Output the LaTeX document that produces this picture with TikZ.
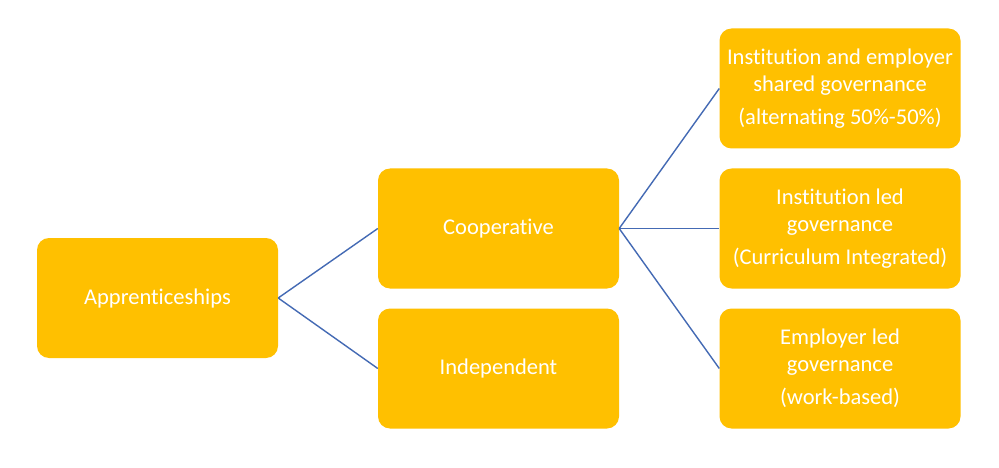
\documentclass[tikz,border=0pt]{standalone}
\usepackage{fontspec}
\setmainfont{Carlito}[Ligatures=NoCommon]
\definecolor{boxfill}{RGB}{255,192,0}
\definecolor{linkblue}{RGB}{68,106,180}
\begin{document}
\begin{tikzpicture}[x=1pt,y=-1pt,
  box/.style={rectangle, rounded corners=12pt, fill=boxfill, draw=none,
    minimum width=241pt, minimum height=120pt, text=white, align=center,
    font=\fontsize{22.5}{27}\selectfont, inner sep=0pt},
  link/.style={draw=linkblue, line width=1.4pt}]
\useasboundingbox (0,0) rectangle (999,468);
\fill[white] (0,0) rectangle (999,468);
\node[box] (app) at (157.5,298) {Apprenticeships};
\node[box] (coop) at (498.5,228.5) {Cooperative};
\node[box] (ind) at (498.5,368.5) {Independent};
\node[box] (shared) at (840,88.5) {Institution and employer\\shared governance\\[6pt](alternating 50\%-50\%)};
\node[box] (inst) at (840,228.5) {Institution led\\governance\\[6pt](Curriculum Integrated)};
\node[box] (empl) at (840,368.5) {Employer led\\governance\\[6pt](work-based)};
\draw[link] (app.east) -- (coop.west);
\draw[link] (app.east) -- (ind.west);
\draw[link] (coop.east) -- (shared.west);
\draw[link] (coop.east) -- (inst.west);
\draw[link] (coop.east) -- (empl.west);
\end{tikzpicture}
\end{document}
